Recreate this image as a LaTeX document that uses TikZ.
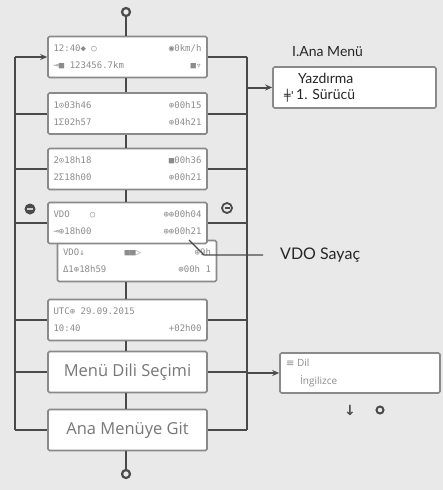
\documentclass[tikz,border=0pt]{standalone}
\usepackage{fontspec}
\setmainfont{Open Sans}
\newfontfamily\lcdfont{DejaVu Sans Mono}
\newfontfamily\symfont{DejaVu Sans}
\newfontfamily\labfont{Lato}
\usetikzlibrary{arrows.meta}
\definecolor{bg}{HTML}{E9E9E9}
\definecolor{linec}{HTML}{4A4A4A}
\definecolor{boxborder}{HTML}{8A8A8A}
\definecolor{lcdtext}{HTML}{8C8C8C}
\newcommand\lcdrow[2]{\makebox[148pt]{#1\hfill#2}}
\begin{document}
\begin{tikzpicture}[x=1pt,y=-1pt,
 lcd/.style={draw=boxborder, line width=1.6pt, fill=white, rounded corners=1.5pt,
   minimum width=159pt, minimum height=41pt, inner sep=0pt,
   font=\lcdfont\fontsize{9}{17}\selectfont, text=lcdtext, align=left},
 bigbox/.style={lcd, font=\fontsize{16.5}{18}\selectfont, text=lcdtext!85!black},
 conn/.style={draw=linec, line width=2pt},
 tick/.style={draw=linec, line width=1.6pt},
 arr/.style={conn, -{Stealth[length=7pt,width=6pt]}},
 ring/.style={draw=linec, line width=2.2pt, circle, minimum size=8pt, inner sep=0pt},
 lab/.style={font=\labfont\fontsize{14}{16}\selectfont, text=black!85, inner sep=0pt, anchor=west},
 side/.style={draw=boxborder, line width=1.6pt, fill=white, rounded corners=1.5pt, inner sep=0pt},
]
\fill[bg] (0,0) rectangle (443,490);

% left column
\node[ring] (top) at (126,12) {};
\node[lcd] (b1) at (127.5,57) {\lcdrow{12:40◆ ○}{◉0km/h}\\\lcdrow{⊸■ 123456.7km}{■▿}};
\node[lcd] (b2) at (127.5,113.5) {\lcdrow{1⊙03h46}{⊕00h15}\\\lcdrow{1Σ02h57}{⊕04h21}};
\node[lcd] (b3) at (127.5,169) {\lcdrow{2⊙18h18}{■00h36}\\\lcdrow{2Σ18h00}{⊕00h21}};
\node[lcd] (sub) at (137,261) {\lcdrow{VDO↓\hspace{40pt}■■▷}{⊕9h}\\\lcdrow{Δ1⊕18h59}{⊕00h 1}};
\node[lcd] (b4) at (127.5,223) {\lcdrow{VDO\hspace{20pt}○}{⊕⊕00h04}\\\lcdrow{⊸⊕18h00}{⊕⊕00h21}};
\node[lcd] (b5) at (127.5,320) {\lcdrow{UTC⊕ 29.09.2015}{}\\\lcdrow{10:40}{+02h00}};
\node[bigbox] (b6) at (127.5,372) {Menü Dili Seçimi};
\node[bigbox] (b7) at (127.5,430) {Ana Menüye Git};
\node[ring] (bot) at (126,474) {};

% vertical ticks
\draw[tick] (top) -- (top |- b1.north);
\draw[tick] ([xshift=-1.5pt]b1.south) -- ([xshift=-1.5pt]b2.north);
\draw[tick] ([xshift=-1.5pt]b2.south) -- ([xshift=-1.5pt]b3.north);
\draw[tick] ([xshift=-1.5pt]b3.south) -- ([xshift=-1.5pt]b4.north);
\draw[tick] ([xshift=-1.5pt]b5.north |- sub.south) -- ([xshift=-1.5pt]b5.north);
\draw[tick] ([xshift=-1.5pt]b5.south) -- ([xshift=-1.5pt]b6.north);
\draw[tick] ([xshift=-1.5pt]b6.south) -- ([xshift=-1.5pt]b7.north);
\draw[tick] (bot |- b7.south) -- (bot);

% side rails
\coordinate (L0) at (15,57);
\coordinate (L7) at (15,430);
\coordinate (R0) at (247,57);
\coordinate (R7) at (247,430);
\draw[conn] (L0) -- (L7);
\draw[conn] (R0) -- (R7);
\draw[arr] (L0) -- (b1.west);
\foreach \b in {b2,b3,b4,b5,b6,b7}{
  \draw[conn] (\b.west -| L0) -- (\b.west);
}
\foreach \b in {b1,b2,b3,b4,b5,b6,b7}{
  \draw[conn] (\b.east) -- (\b.east -| R0);
}

% minus buttons
\node[circle, fill=linec, minimum size=11pt, inner sep=0pt] (minl) at (30,209) {};
\draw[white!80!black, line width=1.2pt] ([xshift=-3pt]minl.center) -- ([xshift=3pt]minl.center);
\node[circle, draw=linec, line width=1.8pt, minimum size=10pt, inner sep=0pt] (minr) at (227,208) {};
\draw[linec, line width=1.2pt] ([xshift=-2.5pt]minr.center) -- ([xshift=2.5pt]minr.center);

% VDO counter label
\node[lab, font=\labfont\fontsize{16}{18}\selectfont] (vdo) at (280,255) {VDO Sayaç};
\coordinate (vp) at (189,240);
\draw[linec, line width=1.2pt] (vp) -- (204,255) -- ([xshift=-17pt]vdo.west);

% main menu box
\node[lab] (amt) at (292,52) {I.Ana Menü};
\node[side, minimum width=163pt, minimum height=41pt] (ym) at (354.5,87.5) {};
\node[lab] (ym1) at (298,78) {Yazdırma};
\node[lab] (ym2) at (284,96) {{\symfont\fontsize{11}{12}\selectfont ╪'}\,1. Sürücü};
\draw[arr] (ym.west -| R0) -- (ym.west);

% language box
\node[side, minimum width=160pt, minimum height=40pt] (dil) at (360,373) {};
\node[lab, font=\fontsize{10}{11}\selectfont, text=lcdtext] (dil1) at (286,363) {{\symfont ≡} Dil};
\node[lab, font=\fontsize{10}{11}\selectfont, text=lcdtext] (dil2) at (300,381) {İngilizce};
\draw[arr] (dil.west -| R0) -- (dil.west);
\node[font=\symfont\bfseries\fontsize{14}{14}\selectfont, text=linec, inner sep=0pt] (dn) at (350,410) {↓};
\node[ring, line width=2pt, minimum size=7pt] (ok) at (380,410) {};
\end{tikzpicture}
\end{document}
